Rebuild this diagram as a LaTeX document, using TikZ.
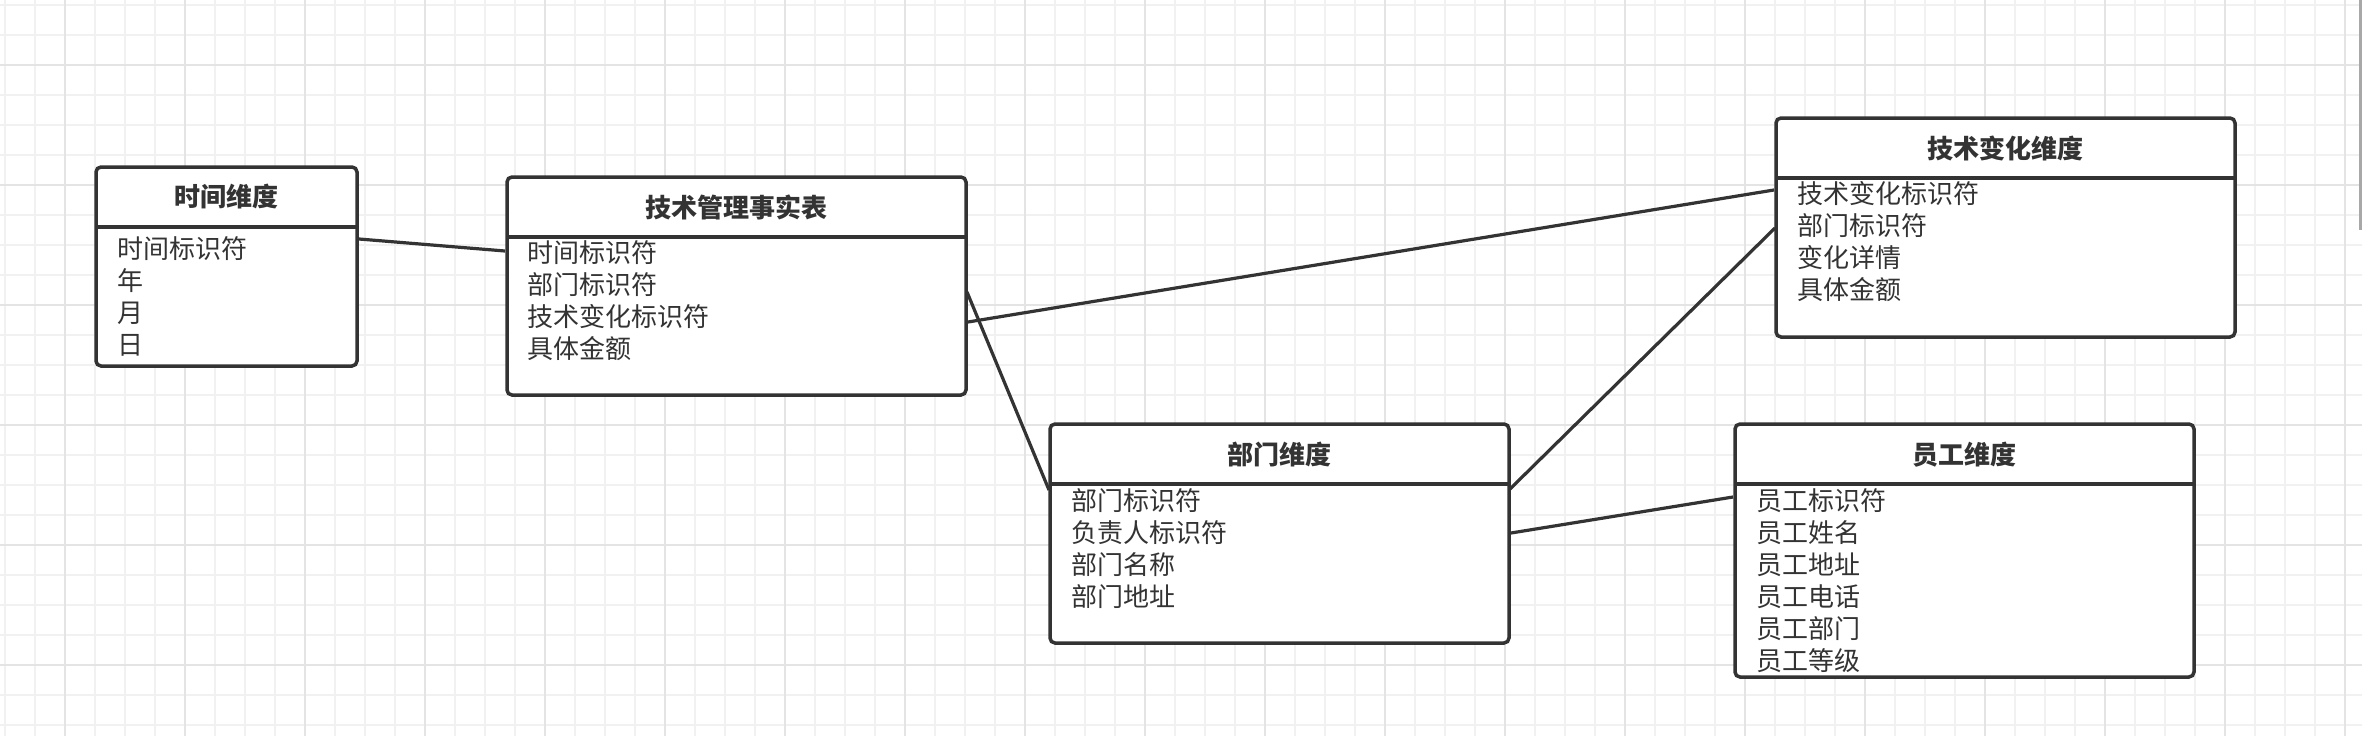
\documentclass[tikz,border=0pt]{standalone}
\usepackage{fontspec}
\newfontfamily\cjk{Noto Sans CJK SC}
\usetikzlibrary{calc}
\definecolor{linec}{HTML}{333333}
\definecolor{gridminor}{HTML}{F1F1F1}
\definecolor{gridmajor}{HTML}{E4E4E4}
\definecolor{scrollc}{HTML}{A8A8A8}
\begin{document}
\begin{tikzpicture}[x=1pt,y=-1pt,
  erbox/.style={draw=linec, line width=3.5pt, rounded corners=5pt, fill=white,
    anchor=north west, inner sep=0pt, outer sep=0pt, minimum width=459pt},
  sepline/.style={draw=linec, line width=4pt},
  conn/.style={draw=linec, line width=3.2pt},
  headtext/.style={font=\cjk\bfseries\fontsize{26pt}{30pt}\selectfont, text=linec, inner sep=0pt},
  rowtext/.style={font=\cjk\fontsize{26pt}{30pt}\selectfont, text=linec, anchor=west, inner sep=0pt},
  minorgrid/.style={draw=gridminor, line width=2pt},
  majorgrid/.style={draw=gridmajor, line width=2pt}]
\useasboundingbox (0,0) rectangle (2362,736);
\fill[white] (0,0) rectangle (2362,736);
% grid
\foreach \i in {0,...,78} \draw[minorgrid] (5+30*\i,0) -- (5+30*\i,736);
\foreach \j in {0,...,24} \draw[minorgrid] (0,5+30*\j) -- (2362,5+30*\j);
\foreach \i in {0,...,19} \draw[majorgrid] (65+120*\i,0) -- (65+120*\i,736);
\foreach \j in {0,...,5} \draw[majorgrid] (0,65+120*\j) -- (2362,65+120*\j);
\fill[scrollc] (2359,0) rectangle (2362,230);

% boxes
\node[erbox, minimum width=261pt, minimum height=199pt] (time) at (96,167) {};
\node[erbox, minimum height=218pt] (fact) at (507,177) {};
\node[erbox, minimum height=219pt] (tech) at (1776,118) {};
\node[erbox, minimum height=219pt] (dept) at (1050,424) {};
\node[erbox, minimum height=253pt] (emp) at (1735,424) {};

% header separators
\foreach \b in {time,fact,tech,dept,emp}
  \draw[sepline] ($(\b.north west)+(0,60)$) -- ($(\b.north east)+(0,60)$);

% headers
\node[headtext] (timeh) at ($(time.north)+(0,30)$) {时间维度};
\node[headtext] (facth) at ($(fact.north)+(0,30)$) {技术管理事实表};
\node[headtext] (techh) at ($(tech.north)+(0,30)$) {技术变化维度};
\node[headtext] (depth) at ($(dept.north)+(0,31)$) {部门维度};
\node[headtext] (emph) at ($(emp.north)+(0,31)$) {员工维度};

% rows: time
\node[rowtext] (t1) at (117,249) {时间标识符};
\node[rowtext] (t2) at (117,281) {年};
\node[rowtext] (t3) at (117,313) {月};
\node[rowtext] (t4) at (117,345) {日};
% rows: fact
\node[rowtext] (f1) at (527,253) {时间标识符};
\node[rowtext] (f2) at (527,285) {部门标识符};
\node[rowtext] (f3) at (527,317) {技术变化标识符};
\node[rowtext] (f4) at (527,349) {具体金额};
% rows: tech
\node[rowtext] (c1) at (1797,194) {技术变化标识符};
\node[rowtext] (c2) at (1797,226) {部门标识符};
\node[rowtext] (c3) at (1797,258) {变化详情};
\node[rowtext] (c4) at (1797,290) {具体金额};
% rows: dept
\node[rowtext] (d1) at (1071,501) {部门标识符};
\node[rowtext] (d2) at (1071,533) {负责人标识符};
\node[rowtext] (d3) at (1071,565) {部门名称};
\node[rowtext] (d4) at (1071,597) {部门地址};
% rows: emp
\node[rowtext] (e1) at (1756,501) {员工标识符};
\node[rowtext] (e2) at (1756,533) {员工姓名};
\node[rowtext] (e3) at (1756,565) {员工地址};
\node[rowtext] (e4) at (1756,597) {员工电话};
\node[rowtext] (e5) at (1756,629) {员工部门};
\node[rowtext] (e6) at (1756,661) {员工等级};

% connectors
\draw[conn] ($(time.north east)+(2,72)$) -- ($(fact.north west)+(-2,74)$);
\draw[conn] ($(fact.north east)+(2,145)$) -- ($(tech.north west)+(-2,72)$);
\draw[conn] ($(fact.north east)+(1,115)$) -- ($(dept.north west)+(-1,66)$);
\draw[conn] ($(dept.north east)+(1,65)$) -- ($(tech.north west)+(-1,110)$);
\draw[conn] ($(dept.north east)+(2,109)$) -- ($(emp.north west)+(-2,73)$);
\end{tikzpicture}
\end{document}
